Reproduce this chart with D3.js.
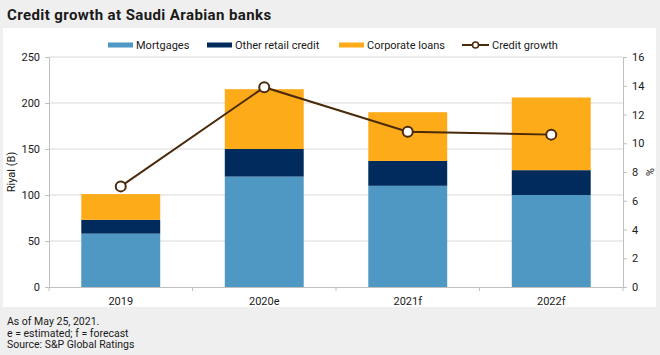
<!DOCTYPE html>
<html><head><meta charset="utf-8">
<script src="https://cdn.jsdelivr.net/npm/d3@7/dist/d3.min.js"></script>
<style>
body{margin:0;padding:0;background:#efefef;}
svg{display:block;font-family:Roboto,"Noto Sans",sans-serif;}
</style></head>
<body>
<svg id="c" width="660" height="355"></svg>
<script>
const categories = ["2019","2020e","2021f","2022f"];
const mortgages = [58,120,110,100];
const otherRetail = [15,30,27,27];
const corporate = [28,65,53,79];
const creditGrowth = [7.0,13.9,10.8,10.6];
const leftTicks = [0,50,100,150,200,250];
const rightTicks = [0,2,4,6,8,10,12,14,16];
const seriesNames = ["Mortgages","Other retail credit","Corporate loans"];
const colors = ["#4f98c3","#002b5c","#fdab19"];
const lineColor = "#4b2a0c";

const svg = d3.select("#c");
svg.append("rect").attr("x",0).attr("y",0).attr("width",660).attr("height",355).attr("fill","#efefef");
svg.append("rect").attr("x",3).attr("y",28).attr("width",653).attr("height",279).attr("fill","#ffffff");
svg.append("text").attr("x",7).attr("y",20).attr("font-size",15).attr("letter-spacing",0.4).attr("font-weight","bold").attr("fill","#1a1a1a").text("Credit growth at Saudi Arabian banks");

const L=49,R=623,T=57,B=287;
const x = d3.scaleBand().domain(categories).range([L,R]).paddingInner(0.45).paddingOuter(0.225);
const y = d3.scaleLinear().domain([0,250]).range([B,T]);
const y2 = d3.scaleLinear().domain([0,16]).range([B,T]);

// gridlines
svg.append("g").selectAll("line").data(leftTicks.filter(d=>d>0)).join("line")
  .attr("x1",L).attr("x2",R).attr("y1",d=>y(d)).attr("y2",d=>y(d)).attr("stroke","#d9d9d9").attr("stroke-width",1);

// stacked bars
const rows = categories.map((c,i)=>({cat:c, m:mortgages[i], o:otherRetail[i], c2:corporate[i]}));
const stack = d3.stack().keys(["m","o","c2"])(rows);
svg.append("g").selectAll("g").data(stack).join("g").attr("fill",(d,i)=>colors[i])
  .selectAll("rect").data(d=>d).join("rect")
  .attr("x",d=>x(d.data.cat)).attr("width",x.bandwidth())
  .attr("y",d=>y(d[1])).attr("height",d=>y(d[0])-y(d[1]));

// axes
const gl = svg.append("g").attr("transform",`translate(${L},0)`).call(d3.axisLeft(y).tickValues(leftTicks).tickSize(4).tickPadding(5));
const gr = svg.append("g").attr("transform",`translate(${R},0)`).call(d3.axisRight(y2).tickValues(rightTicks).tickSize(4).tickPadding(5));
const gx = svg.append("g").attr("transform",`translate(0,${B})`).call(d3.axisBottom(x).tickSize(0).tickPadding(10));
[gl,gr,gx].forEach(g=>{
  g.selectAll("path").attr("stroke","#bfbfbf");
  g.selectAll("line").attr("stroke","#bfbfbf");
  g.selectAll("text").attr("font-size",11).attr("fill","#1a1a1a").attr("font-family","Roboto, sans-serif");
});
gx.select("path").attr("d",`M${L},0.5H${R}`);
// category boundary ticks
const bounds = [L, ...categories.slice(1).map(c=>x(c)-x.step()*x.paddingInner()/2), R];
svg.append("g").selectAll("line").data(bounds).join("line")
  .attr("x1",d=>d).attr("x2",d=>d).attr("y1",B).attr("y2",B+4).attr("stroke","#bfbfbf");

// axis titles
svg.append("text").attr("transform",`translate(15,${(T+B)/2}) rotate(-90)`).attr("text-anchor","middle")
  .attr("font-size",11).attr("fill","#1a1a1a").text("Riyal (B)");
svg.append("text").attr("transform",`translate(646,${(T+B)/2}) rotate(90)`).attr("text-anchor","middle")
  .attr("font-size",11).attr("fill","#1a1a1a").text("%");

// line
const line = d3.line().x((d,i)=>x(categories[i])+x.bandwidth()/2).y(d=>y2(d));
svg.append("path").datum(creditGrowth).attr("d",line).attr("fill","none").attr("stroke",lineColor).attr("stroke-width",2);
svg.append("g").selectAll("circle").data(creditGrowth).join("circle")
  .attr("cx",(d,i)=>x(categories[i])+x.bandwidth()/2).attr("cy",d=>y2(d)).attr("r",5)
  .attr("fill","#fff").attr("stroke",lineColor).attr("stroke-width",2);

// legend
const leg = svg.append("g");
const legX = [108,207,339];
seriesNames.forEach((n,i)=>{
  leg.append("rect").attr("x",legX[i]).attr("y",42.5).attr("width",25).attr("height",5).attr("fill",colors[i]);
  leg.append("text").attr("x",legX[i]+28).attr("y",49).attr("font-size",11).attr("fill","#1a1a1a").text(n);
});
leg.append("line").attr("x1",462).attr("x2",489).attr("y1",45).attr("y2",45).attr("stroke",lineColor).attr("stroke-width",2);
leg.append("circle").attr("cx",475.5).attr("cy",45).attr("r",3).attr("fill","#fff").attr("stroke",lineColor).attr("stroke-width",1.5);
leg.append("text").attr("x",492).attr("y",49).attr("font-size",11).attr("fill","#1a1a1a").text("Credit growth");

// footnotes
const notes = ["As of May 25, 2021.","e = estimated; f = forecast","Source: S&P Global Ratings"];
svg.append("g").selectAll("text").data(notes).join("text")
  .attr("x",7).attr("y",(d,i)=>325+i*11.5).attr("font-size",10.5).attr("fill","#1a1a1a").text(d=>d);
</script>
</body></html>
